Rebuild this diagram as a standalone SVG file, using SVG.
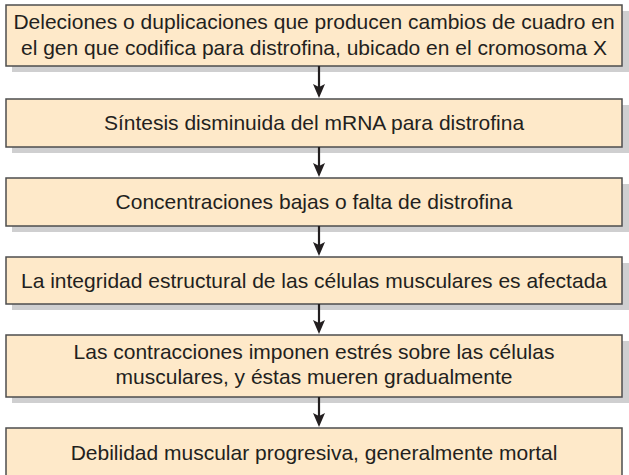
<svg xmlns="http://www.w3.org/2000/svg" width="629" height="475" viewBox="0 0 629 475">
<defs>
<style>
.box{fill:#fee9c9;stroke:#4d4d4d;stroke-width:1.5}
.sh{fill:#cfcfd0}
.t{font-family:"Liberation Sans",Arial,sans-serif;font-size:21px;fill:#231f20;text-anchor:middle}
.c{stroke:#231f20;stroke-width:2.2;fill:none}
.ah{fill:#231f20}
</style>
</defs>
<rect width="629" height="475" fill="#ffffff"/>
<g id="n1">
<rect class="sh" x="12" y="11" width="617" height="61"/>
<rect class="box" x="6" y="5" width="616" height="61"/>
<text class="t" x="314" y="29">Deleciones o duplicaciones que producen cambios de cuadro en</text>
<text class="t" x="314" y="55">el gen que codifica para distrofina, ubicado en el cromosoma X</text>
</g>
<g id="n2">
<rect class="sh" x="12" y="105" width="617" height="48"/>
<rect class="box" x="6" y="99" width="616" height="48"/>
<text class="t" x="314" y="130">Síntesis disminuida del mRNA para distrofina</text>
</g>
<g id="n3">
<rect class="sh" x="12" y="184" width="617" height="48"/>
<rect class="box" x="6" y="178" width="616" height="48"/>
<text class="t" x="314" y="209">Concentraciones bajas o falta de distrofina</text>
</g>
<g id="n4">
<rect class="sh" x="12" y="263" width="617" height="47"/>
<rect class="box" x="6" y="257" width="616" height="47"/>
<text class="t" x="314" y="288">La integridad estructural de las células musculares es afectada</text>
</g>
<g id="n5">
<rect class="sh" x="12" y="341" width="617" height="62"/>
<rect class="box" x="6" y="335" width="616" height="62"/>
<text class="t" x="314" y="359">Las contracciones imponen estrés sobre las células</text>
<text class="t" x="314" y="384">musculares, y éstas mueren gradualmente</text>
</g>
<g id="n6">
<rect class="box" x="6" y="428" width="616" height="48"/>
<text class="t" x="314" y="460">Debilidad muscular progresiva, generalmente mortal</text>
</g>
<g id="connectors">
<line class="c" x1="319" y1="66" x2="319" y2="88"/>
<path class="ah" d="M313,84 L319,87 L325,84 L319,98 Z"/>
<line class="c" x1="319" y1="147" x2="319" y2="167"/>
<path class="ah" d="M313,163 L319,166 L325,163 L319,177 Z"/>
<line class="c" x1="319" y1="226" x2="319" y2="246"/>
<path class="ah" d="M313,242 L319,245 L325,242 L319,256 Z"/>
<line class="c" x1="319" y1="304" x2="319" y2="324"/>
<path class="ah" d="M313,320 L319,323 L325,320 L319,334 Z"/>
<line class="c" x1="319" y1="397" x2="319" y2="417"/>
<path class="ah" d="M313,413 L319,416 L325,413 L319,427 Z"/>
</g>
</svg>
